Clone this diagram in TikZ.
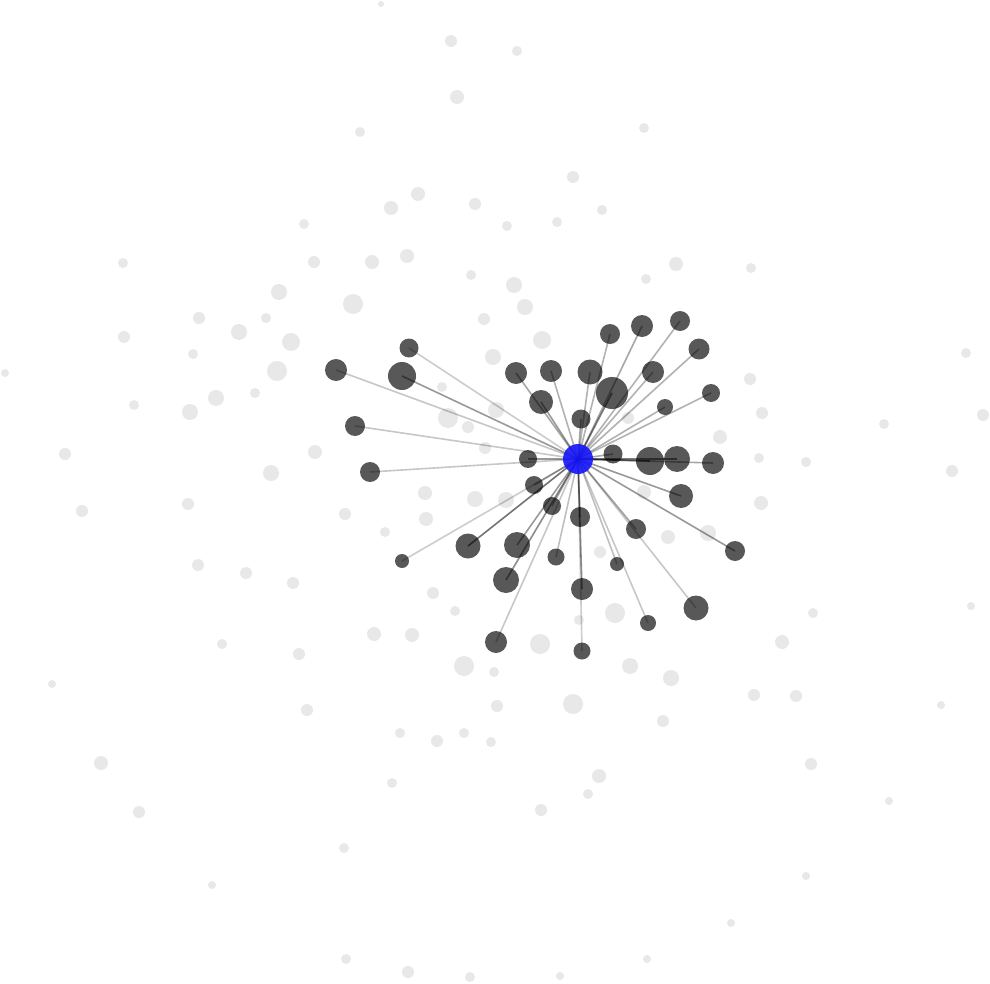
\documentclass[tikz,border=0pt]{standalone}
\usepackage{tikz}
\definecolor{hubblue}{RGB}{20,20,250}
\definecolor{nbgray}{RGB}{88,88,88}
\definecolor{bggray}{RGB}{232,232,232}
\tikzset{
	lightdot/.style={circle, fill=bggray, inner sep=0pt},
	darkdot/.style={circle, fill=nbgray, inner sep=0pt},
	hubdot/.style={circle, fill=hubblue, fill opacity=0.9, inner sep=0pt, minimum size=30pt},
	edge/.style={line width=1.6pt, draw=black}
}
\begin{document}
\begin{tikzpicture}[x=1pt, y=-1pt]
			\useasboundingbox[fill=white] (0,0) rectangle (990,984);

			% background nodes
			\foreach \x/\y/\r [count=\i] in {
				381/4/3, 451/41/6, 517/51/5, 457/97/7, 360/132/5, 644/128/5, 573/177/6,
				391/208/7, 418/194/7, 475/204/6, 602/210/5, 557/222/5, 507/226/5, 304/224/5,
				123/263/5, 314/262/6, 372/262/7, 407/256/7, 471/275/5, 514/285/8, 646/279/5,
				676/264/7, 751/268/5, 279/292/8, 353/304/10, 525/307/8, 484/319/6, 199/318/6,
				266/318/5, 239/332/8, 124/337/6, 291/342/9, 542/340/9, 493/357/8, 193/354/5,
				277/371/10, 5/373/4, 966/353/5, 442/387/5, 750/379/6, 216/398/8, 255/393/5,
				134/405/5, 190/412/8, 496/410/8, 448/418/10, 468/427/6, 628/418/6, 762/413/6,
				983/415/6, 884/424/5, 720/437/7, 485/448/6, 315/452/7, 65/454/6, 759/458/5,
				806/462/5, 952/471/6, 271/473/8, 425/493/7, 475/499/8, 506/500/8, 644/492/7,
				761/503/7, 188/504/6, 82/511/6, 345/514/6, 426/519/7, 385/532/5, 668/537/7,
				708/533/8, 600/552/6, 198/565/6, 246/573/6, 293/583/6, 433/593/6, 455/611/5,
				615/613/10, 579/620/5, 813/613/5, 971/606/4, 222/644/5, 374/634/7, 412/635/7,
				540/644/10, 782/642/7, 299/654/6, 464/666/10, 630/666/8, 494/672/5, 671/678/8,
				52/684/4, 573/704/10, 497/706/6, 754/695/6, 796/696/6, 941/705/4, 307/710/6,
				663/721/6, 400/733/5, 437/741/6, 464/733/5, 491/742/5, 101/763/7, 811/764/6,
				599/776/7, 392/783/5, 588/794/5, 139/812/6, 541/810/6, 889/801/4, 344/848/5,
				806/876/4, 212/885/4, 731/923/4, 346/959/5, 647/959/4, 408/972/6, 470/977/5,
				560/976/4}
				\node[lightdot, minimum size=2*\r] (g\i) at (\x,\y) {};

			% neighbours
			\draw node[darkdot, minimum size=19pt] (d1) at (409,348) {};
			\draw node[darkdot, minimum size=22pt] (d2) at (336,370) {};
			\draw node[darkdot, minimum size=28pt] (d3) at (402,376) {};
			\draw node[darkdot, minimum size=20pt] (d4) at (355,426) {};
			\draw node[darkdot, minimum size=20pt] (d5) at (370,472) {};
			\draw node[darkdot, minimum size=22pt] (d6) at (516,373) {};
			\draw node[darkdot, minimum size=22pt] (d7) at (551,371) {};
			\draw node[darkdot, minimum size=24pt] (d8) at (541,402) {};
			\draw node[darkdot, minimum size=19pt] (d9) at (581,419) {};
			\draw node[darkdot, minimum size=18pt] (d10) at (528,459) {};
			\draw node[darkdot, minimum size=20pt] (d11) at (610,334) {};
			\draw node[darkdot, minimum size=22pt] (d12) at (642,326) {};
			\draw node[darkdot, minimum size=20pt] (d13) at (680,321) {};
			\draw node[darkdot, minimum size=21pt] (d14) at (699,349) {};
			\draw node[darkdot, minimum size=25pt] (d15) at (590,372) {};
			\draw node[darkdot, minimum size=32pt] (d16) at (612,393) {};
			\draw node[darkdot, minimum size=22pt] (d17) at (653,372) {};
			\draw node[darkdot, minimum size=16pt] (d18) at (665,407) {};
			\draw node[darkdot, minimum size=18pt] (d19) at (711,393) {};
			\draw node[darkdot, minimum size=19pt] (d20) at (613,454) {};
			\draw node[darkdot, minimum size=28pt] (d21) at (650,461) {};
			\draw node[darkdot, minimum size=26pt] (d22) at (677,459) {};
			\draw node[darkdot, minimum size=22pt] (d23) at (713,463) {};
			\draw node[darkdot, minimum size=18pt] (d24) at (534,485) {};
			\draw node[darkdot, minimum size=18pt] (d25) at (552,506) {};
			\draw node[darkdot, minimum size=20pt] (d26) at (580,517) {};
			\draw node[darkdot, minimum size=25pt] (d27) at (468,546) {};
			\draw node[darkdot, minimum size=26pt] (d28) at (517,545) {};
			\draw node[darkdot, minimum size=14pt] (d29) at (402,561) {};
			\draw node[darkdot, minimum size=17pt] (d30) at (556,557) {};
			\draw node[darkdot, minimum size=26pt] (d31) at (506,580) {};
			\draw node[darkdot, minimum size=22pt] (d32) at (582,589) {};
			\draw node[darkdot, minimum size=14pt] (d33) at (617,564) {};
			\draw node[darkdot, minimum size=20pt] (d34) at (636,529) {};
			\draw node[darkdot, minimum size=24pt] (d35) at (681,496) {};
			\draw node[darkdot, minimum size=20pt] (d36) at (735,551) {};
			\draw node[darkdot, minimum size=25pt] (d37) at (696,608) {};
			\draw node[darkdot, minimum size=16pt] (d38) at (648,623) {};
			\draw node[darkdot, minimum size=22pt] (d39) at (496,642) {};
			\draw node[darkdot, minimum size=17pt] (d40) at (582,651) {};

			\coordinate (c) at (578,459);

			% links
			\foreach \n/\o in {d1/0.2, d2/0.22, d3/0.4, d4/0.22, d5/0.22, d6/0.35, d7/0.3,
				d8/0.4, d9/0.35, d10/0.4, d11/0.3, d12/0.35, d13/0.3, d14/0.3, d15/0.3,
				d16/0.5, d17/0.3, d18/0.3, d19/0.3, d20/0.35, d21/0.55, d22/0.5, d23/0.35,
				d24/0.35, d25/0.35, d26/0.35, d27/0.55, d28/0.4, d29/0.2, d30/0.25, d31/0.45,
				d32/0.45, d33/0.25, d34/0.35, d35/0.4, d36/0.4, d37/0.22, d38/0.22, d39/0.22,
				d40/0.2}
				\draw[edge, draw opacity=\o] (c) -- (\n.center);

			\draw node[hubdot] (hub) at (c) {};
		\end{tikzpicture}
\end{document}
